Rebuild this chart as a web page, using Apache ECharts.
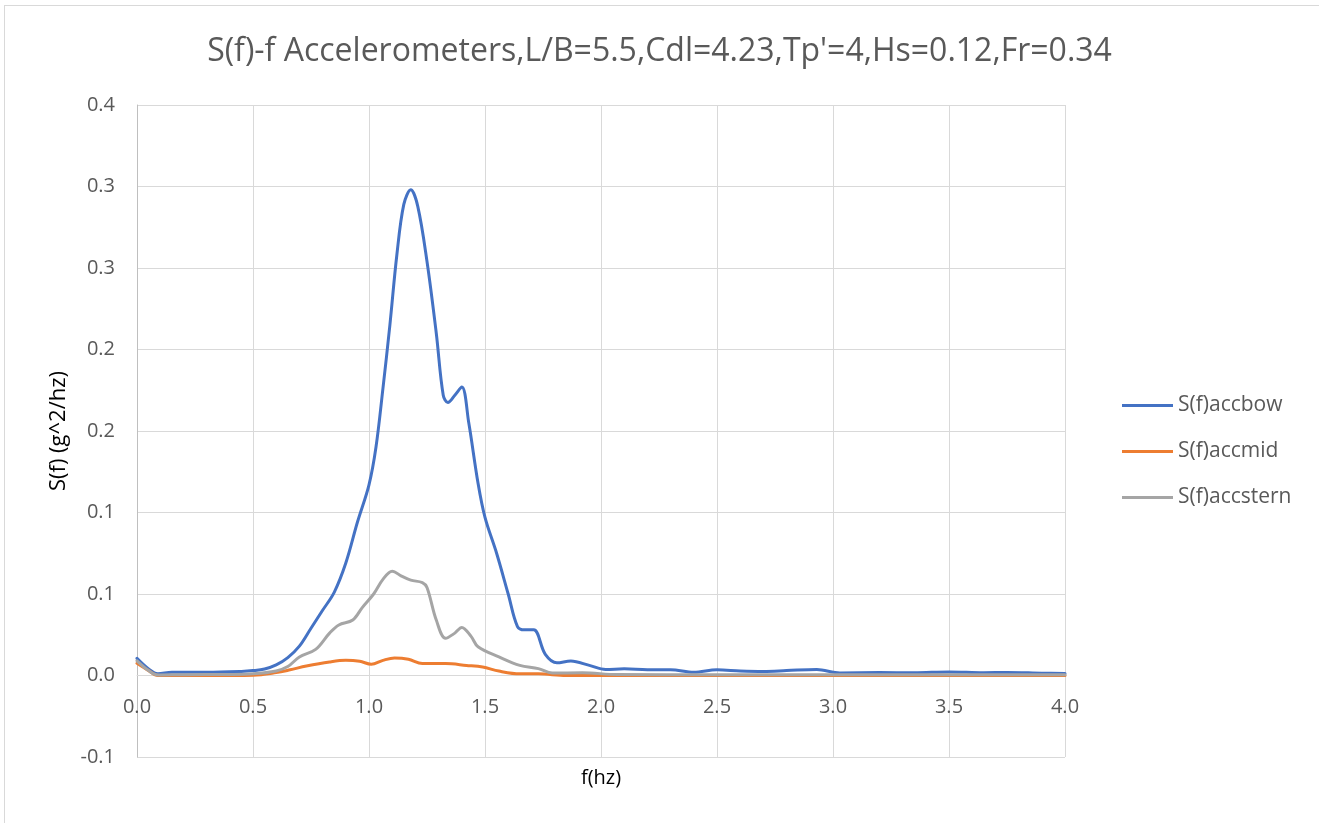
<!DOCTYPE html>
<html>
<head>
<meta charset="utf-8">
<script src="https://cdn.jsdelivr.net/npm/echarts@6/dist/echarts.min.js"></script>
<style>
  html, body { margin: 0; padding: 0; background: #ffffff; }
  #chart { position: absolute; left: 0; top: 0; width: 1319px; height: 823px; }
  #frame { position: absolute; left: 4px; top: 5px; width: 1400px; height: 900px;
           border-left: 1px solid #d9d9d9; border-top: 1px solid #d9d9d9; pointer-events: none; }
</style>
</head>
<body>
<div id="chart"></div>
<div id="frame"></div>
<script>
// Spectral density S(f) of the three accelerometers, [f (Hz), S (g^2/Hz)]
const bowF = [0, 0.05, 0.09, 0.15, 0.3, 0.45, 0.5, 0.55, 0.6, 0.65, 0.7, 0.75, 0.8, 0.85, 0.9, 0.95,
  1.0, 1.03, 1.06, 1.09, 1.12, 1.15, 1.18, 1.21, 1.25, 1.29, 1.32, 1.34, 1.37, 1.40, 1.43, 1.47,
  1.50, 1.55, 1.60, 1.64, 1.67, 1.71, 1.76, 1.81, 1.87, 1.95, 2.02, 2.1, 2.2, 2.3, 2.4, 2.5, 2.6,
  2.7, 2.8, 2.93, 3.03, 3.2, 3.35, 3.5, 3.65, 3.75, 3.9, 4.0];
const bowS = [0.0105, 0.004, 0.001, 0.002, 0.002, 0.0025, 0.003, 0.004, 0.0065, 0.011, 0.018, 0.029, 0.040, 0.051, 0.069, 0.094,
  0.117, 0.140, 0.176, 0.215, 0.258, 0.289, 0.298, 0.288, 0.254, 0.210, 0.172, 0.1675, 0.172, 0.177, 0.155, 0.118,
  0.097, 0.075, 0.050, 0.030, 0.028, 0.028, 0.013, 0.0078, 0.0089, 0.0062, 0.0037, 0.0041, 0.0036, 0.0036, 0.002, 0.0035, 0.0028,
  0.0025, 0.003, 0.0037, 0.0016, 0.0018, 0.0017, 0.0022, 0.0017, 0.0019, 0.0014, 0.0012];

const midF = [0, 0.05, 0.09, 0.3, 0.5, 0.6, 0.66, 0.73, 0.83, 0.9, 0.96, 1.01, 1.06, 1.11, 1.17, 1.23,
  1.33, 1.42, 1.49, 1.56, 1.65, 1.73, 1.85, 2.5, 3.0, 3.5, 4.0];
const midS = [0.0075, 0.003, 0.0, 0.0, 0.0002, 0.0018, 0.0035, 0.0058, 0.0083, 0.0093, 0.0087, 0.0069, 0.0093, 0.0108, 0.0100, 0.0073,
  0.0073, 0.0062, 0.0052, 0.0027, 0.001, 0.001, 0.0, 0.0, 0.0, 0.0, 0.0];

const sternF = [0, 0.05, 0.09, 0.2, 0.4, 0.5, 0.6, 0.65, 0.7, 0.77, 0.83, 0.87, 0.93, 0.97, 1.02, 1.06,
  1.10, 1.14, 1.18, 1.23, 1.25, 1.29, 1.33, 1.37, 1.40, 1.44, 1.47, 1.56, 1.65, 1.73, 1.79, 1.92,
  2.07, 2.5, 3.0, 3.5, 4.0];
const sternS = [0.0090, 0.003, 0.0003, 0.0005, 0.0006, 0.001, 0.0028, 0.0055, 0.0114, 0.016, 0.026, 0.031, 0.034, 0.0415, 0.050, 0.059,
  0.064, 0.061, 0.0585, 0.057, 0.054, 0.034, 0.0228, 0.026, 0.0295, 0.024, 0.0176, 0.0114, 0.0062, 0.0042, 0.0015, 0.0017,
  0.0006, 0.0005, 0.0004, 0.0004, 0.0004];

const seriesNames = ['S(f)accbow', 'S(f)accmid', 'S(f)accstern'];
// y ticks run -0.05..0.35 by 0.05, shown with one decimal
const yTickLabels = ['-0.1', '0.0', '0.1', '0.1', '0.2', '0.2', '0.3', '0.3', '0.4'];
const xTickLabels = ['0.0', '0.5', '1.0', '1.5', '2.0', '2.5', '3.0', '3.5', '4.0'];

const FONT = 'Open Sans';
const Y_MIN = -0.05, Y_MAX = 0.35;
const GRID = { left: 137, right: 254, top: 105, bottom: 66 };
const pairs = (xs, ys) => xs.map((x, i) => [x, ys[i]]);

// the horizontal axis sits on S = 0, so shift it up from the grid's bottom edge
const plotH = 823 - GRID.top - GRID.bottom;
const xAxisLift = -plotH * (0 - Y_MIN) / (Y_MAX - Y_MIN);

const chart = echarts.init(document.getElementById('chart'), null, { renderer: 'canvas' });

const lineSeries = (name, data, color) => ({
  name, type: 'line', data, smooth: 0.35, symbol: 'none', showSymbol: false,
  lineStyle: { color, width: 3, cap: 'round', join: 'round' },
  itemStyle: { color },
  emphasis: { disabled: true }
});

chart.setOption({
  animation: false,
  backgroundColor: '#ffffff',
  title: {
    text: "S(f)-f Accelerometers,L/B=5.5,Cdl=4.23,Tp'=4,Hs=0.12,Fr=0.34",
    left: 'center', top: 31,
    textStyle: { fontFamily: FONT, fontSize: 32, fontWeight: 'normal', color: '#595959' }
  },
  legend: {
    orient: 'vertical', left: 1117, top: 390,
    icon: 'rect', itemWidth: 51, itemHeight: 3, itemGap: 25,
    textStyle: { fontFamily: FONT, fontSize: 21, color: '#595959' },
    data: seriesNames
  },
  grid: Object.assign({ containLabel: false, outerBoundsMode: 'none' }, GRID),
  xAxis: {
    type: 'value', min: 0, max: 4, interval: 0.5,
    offset: xAxisLift,
    name: 'f(hz)', nameLocation: 'middle', nameGap: 93,
    nameTextStyle: { fontFamily: FONT, fontSize: 20, color: '#000000' },
    axisLine: { show: true, onZero: false, lineStyle: { color: '#d9d9d9', width: 1 } },
    axisTick: { show: false },
    axisLabel: {
      margin: 22, fontFamily: FONT, fontSize: 20, color: '#595959',
      formatter: (v, i) => xTickLabels[i]
    },
    splitLine: { show: true, lineStyle: { color: '#d9d9d9', width: 1 } }
  },
  yAxis: {
    type: 'value', min: Y_MIN, max: Y_MAX, interval: 0.05,
    name: 'S(f) (g^2/hz)', nameLocation: 'middle', nameGap: 64, nameRotate: 90,
    nameTextStyle: { fontFamily: FONT, fontSize: 22, color: '#000000' },
    axisLine: { show: true, onZero: false, lineStyle: { color: '#bfbfbf', width: 1 } },
    axisTick: { show: false },
    axisLabel: {
      margin: 22, fontFamily: FONT, fontSize: 20, color: '#595959',
      formatter: (v, i) => yTickLabels[i]
    },
    splitLine: { show: true, lineStyle: { color: '#d9d9d9', width: 1 } }
  },
  series: [
    lineSeries(seriesNames[0], pairs(bowF, bowS), '#4472C4'),
    lineSeries(seriesNames[1], pairs(midF, midS), '#ED7D31'),
    lineSeries(seriesNames[2], pairs(sternF, sternS), '#A5A5A5')
  ]
});
</script>
</body>
</html>
